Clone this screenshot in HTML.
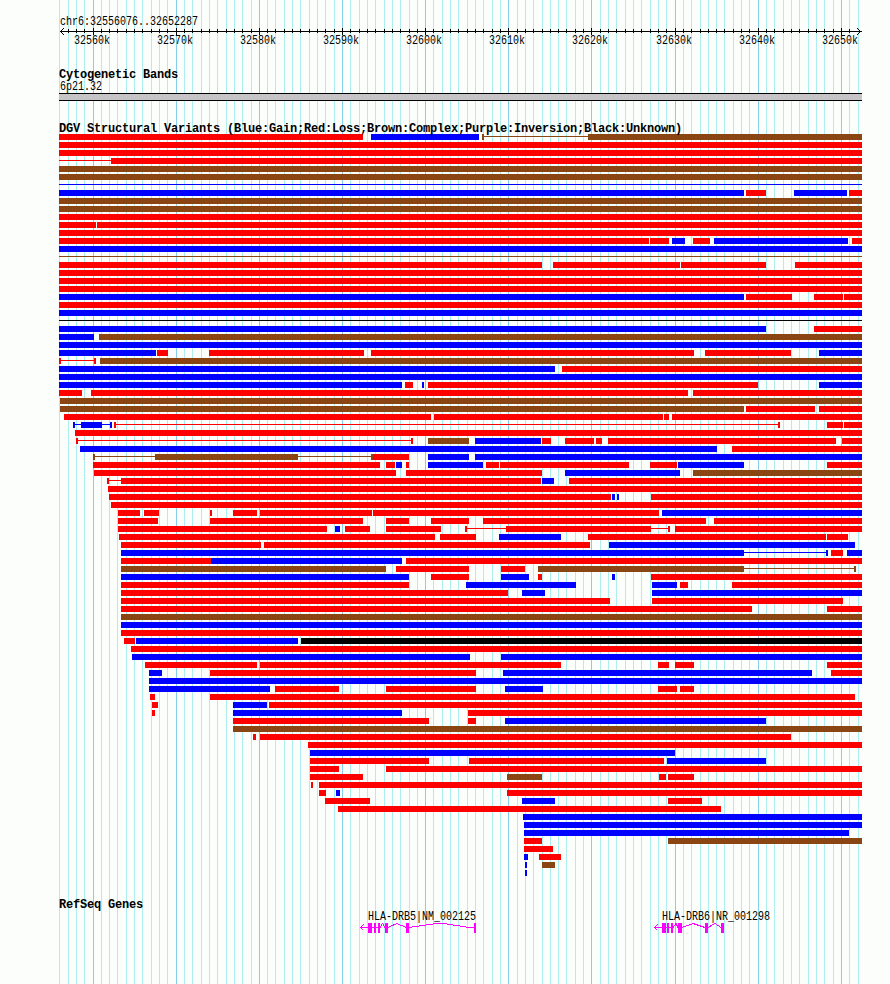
<!DOCTYPE html>
<html><head><meta charset="utf-8"><style>
html,body{margin:0;padding:0;background:#fcfefb;}
body{width:890px;height:984px;position:relative;overflow:hidden;}
svg{position:absolute;left:0;top:0;}
.n,.b{position:absolute;font-family:"Liberation Mono",monospace;font-size:12px;line-height:13px;white-space:pre;color:#000;}
.n{font-size:10px;transform:scaleY(1.2);transform-origin:0 0;}
.b{font-weight:bold;font-size:12px;letter-spacing:-0.2px;}
</style></head><body>
<svg width="890" height="984" viewBox="0 0 890 984" shape-rendering="crispEdges">
<rect x="59" y="0" width="1" height="984" fill="#afeeee"/>
<rect x="68" y="0" width="1" height="984" fill="#afeeee"/>
<rect x="76" y="0" width="1" height="984" fill="#afeeee"/>
<rect x="84" y="0" width="1" height="984" fill="#afeeee"/>
<rect x="93" y="0" width="1" height="984" fill="#87ceeb"/>
<rect x="101" y="0" width="1" height="984" fill="#afeeee"/>
<rect x="109" y="0" width="1" height="984" fill="#afeeee"/>
<rect x="117" y="0" width="1" height="984" fill="#afeeee"/>
<rect x="126" y="0" width="1" height="984" fill="#afeeee"/>
<rect x="134" y="0" width="1" height="984" fill="#afeeee"/>
<rect x="142" y="0" width="1" height="984" fill="#afeeee"/>
<rect x="151" y="0" width="1" height="984" fill="#afeeee"/>
<rect x="159" y="0" width="1" height="984" fill="#afeeee"/>
<rect x="167" y="0" width="1" height="984" fill="#afeeee"/>
<rect x="176" y="0" width="1" height="984" fill="#87ceeb"/>
<rect x="184" y="0" width="1" height="984" fill="#afeeee"/>
<rect x="192" y="0" width="1" height="984" fill="#afeeee"/>
<rect x="201" y="0" width="1" height="984" fill="#afeeee"/>
<rect x="209" y="0" width="1" height="984" fill="#afeeee"/>
<rect x="217" y="0" width="1" height="984" fill="#afeeee"/>
<rect x="226" y="0" width="1" height="984" fill="#afeeee"/>
<rect x="234" y="0" width="1" height="984" fill="#afeeee"/>
<rect x="242" y="0" width="1" height="984" fill="#afeeee"/>
<rect x="251" y="0" width="1" height="984" fill="#afeeee"/>
<rect x="259" y="0" width="1" height="984" fill="#87ceeb"/>
<rect x="267" y="0" width="1" height="984" fill="#afeeee"/>
<rect x="275" y="0" width="1" height="984" fill="#afeeee"/>
<rect x="284" y="0" width="1" height="984" fill="#afeeee"/>
<rect x="292" y="0" width="1" height="984" fill="#afeeee"/>
<rect x="300" y="0" width="1" height="984" fill="#afeeee"/>
<rect x="309" y="0" width="1" height="984" fill="#afeeee"/>
<rect x="317" y="0" width="1" height="984" fill="#afeeee"/>
<rect x="325" y="0" width="1" height="984" fill="#afeeee"/>
<rect x="334" y="0" width="1" height="984" fill="#afeeee"/>
<rect x="342" y="0" width="1" height="984" fill="#87ceeb"/>
<rect x="350" y="0" width="1" height="984" fill="#afeeee"/>
<rect x="359" y="0" width="1" height="984" fill="#afeeee"/>
<rect x="367" y="0" width="1" height="984" fill="#afeeee"/>
<rect x="375" y="0" width="1" height="984" fill="#afeeee"/>
<rect x="384" y="0" width="1" height="984" fill="#afeeee"/>
<rect x="392" y="0" width="1" height="984" fill="#afeeee"/>
<rect x="400" y="0" width="1" height="984" fill="#afeeee"/>
<rect x="409" y="0" width="1" height="984" fill="#afeeee"/>
<rect x="417" y="0" width="1" height="984" fill="#afeeee"/>
<rect x="425" y="0" width="1" height="984" fill="#87ceeb"/>
<rect x="433" y="0" width="1" height="984" fill="#afeeee"/>
<rect x="442" y="0" width="1" height="984" fill="#afeeee"/>
<rect x="450" y="0" width="1" height="984" fill="#afeeee"/>
<rect x="458" y="0" width="1" height="984" fill="#afeeee"/>
<rect x="467" y="0" width="1" height="984" fill="#afeeee"/>
<rect x="475" y="0" width="1" height="984" fill="#afeeee"/>
<rect x="483" y="0" width="1" height="984" fill="#afeeee"/>
<rect x="492" y="0" width="1" height="984" fill="#afeeee"/>
<rect x="500" y="0" width="1" height="984" fill="#afeeee"/>
<rect x="508" y="0" width="1" height="984" fill="#87ceeb"/>
<rect x="517" y="0" width="1" height="984" fill="#afeeee"/>
<rect x="525" y="0" width="1" height="984" fill="#afeeee"/>
<rect x="533" y="0" width="1" height="984" fill="#afeeee"/>
<rect x="542" y="0" width="1" height="984" fill="#afeeee"/>
<rect x="550" y="0" width="1" height="984" fill="#afeeee"/>
<rect x="558" y="0" width="1" height="984" fill="#afeeee"/>
<rect x="566" y="0" width="1" height="984" fill="#afeeee"/>
<rect x="575" y="0" width="1" height="984" fill="#afeeee"/>
<rect x="583" y="0" width="1" height="984" fill="#afeeee"/>
<rect x="591" y="0" width="1" height="984" fill="#87ceeb"/>
<rect x="600" y="0" width="1" height="984" fill="#afeeee"/>
<rect x="608" y="0" width="1" height="984" fill="#afeeee"/>
<rect x="616" y="0" width="1" height="984" fill="#afeeee"/>
<rect x="625" y="0" width="1" height="984" fill="#afeeee"/>
<rect x="633" y="0" width="1" height="984" fill="#afeeee"/>
<rect x="641" y="0" width="1" height="984" fill="#afeeee"/>
<rect x="650" y="0" width="1" height="984" fill="#afeeee"/>
<rect x="658" y="0" width="1" height="984" fill="#afeeee"/>
<rect x="666" y="0" width="1" height="984" fill="#afeeee"/>
<rect x="675" y="0" width="1" height="984" fill="#87ceeb"/>
<rect x="683" y="0" width="1" height="984" fill="#afeeee"/>
<rect x="691" y="0" width="1" height="984" fill="#afeeee"/>
<rect x="700" y="0" width="1" height="984" fill="#afeeee"/>
<rect x="708" y="0" width="1" height="984" fill="#afeeee"/>
<rect x="716" y="0" width="1" height="984" fill="#afeeee"/>
<rect x="724" y="0" width="1" height="984" fill="#afeeee"/>
<rect x="733" y="0" width="1" height="984" fill="#afeeee"/>
<rect x="741" y="0" width="1" height="984" fill="#afeeee"/>
<rect x="749" y="0" width="1" height="984" fill="#afeeee"/>
<rect x="758" y="0" width="1" height="984" fill="#87ceeb"/>
<rect x="766" y="0" width="1" height="984" fill="#afeeee"/>
<rect x="774" y="0" width="1" height="984" fill="#afeeee"/>
<rect x="783" y="0" width="1" height="984" fill="#afeeee"/>
<rect x="791" y="0" width="1" height="984" fill="#afeeee"/>
<rect x="799" y="0" width="1" height="984" fill="#afeeee"/>
<rect x="808" y="0" width="1" height="984" fill="#afeeee"/>
<rect x="816" y="0" width="1" height="984" fill="#afeeee"/>
<rect x="824" y="0" width="1" height="984" fill="#afeeee"/>
<rect x="833" y="0" width="1" height="984" fill="#afeeee"/>
<rect x="841" y="0" width="1" height="984" fill="#87ceeb"/>
<rect x="849" y="0" width="1" height="984" fill="#afeeee"/>
<rect x="858" y="0" width="1" height="984" fill="#afeeee"/>
<rect x="60" y="31" width="802" height="1" fill="#000"/>
<rect x="68" y="29" width="1" height="4" fill="#000"/>
<rect x="76" y="29" width="1" height="4" fill="#000"/>
<rect x="84" y="29" width="1" height="4" fill="#000"/>
<rect x="93" y="28" width="1" height="7" fill="#000"/>
<rect x="101" y="29" width="1" height="4" fill="#000"/>
<rect x="109" y="29" width="1" height="4" fill="#000"/>
<rect x="117" y="29" width="1" height="4" fill="#000"/>
<rect x="126" y="29" width="1" height="4" fill="#000"/>
<rect x="134" y="29" width="1" height="4" fill="#000"/>
<rect x="142" y="29" width="1" height="4" fill="#000"/>
<rect x="151" y="29" width="1" height="4" fill="#000"/>
<rect x="159" y="29" width="1" height="4" fill="#000"/>
<rect x="167" y="29" width="1" height="4" fill="#000"/>
<rect x="176" y="28" width="1" height="7" fill="#000"/>
<rect x="184" y="29" width="1" height="4" fill="#000"/>
<rect x="192" y="29" width="1" height="4" fill="#000"/>
<rect x="201" y="29" width="1" height="4" fill="#000"/>
<rect x="209" y="29" width="1" height="4" fill="#000"/>
<rect x="217" y="29" width="1" height="4" fill="#000"/>
<rect x="226" y="29" width="1" height="4" fill="#000"/>
<rect x="234" y="29" width="1" height="4" fill="#000"/>
<rect x="242" y="29" width="1" height="4" fill="#000"/>
<rect x="251" y="29" width="1" height="4" fill="#000"/>
<rect x="259" y="28" width="1" height="7" fill="#000"/>
<rect x="267" y="29" width="1" height="4" fill="#000"/>
<rect x="275" y="29" width="1" height="4" fill="#000"/>
<rect x="284" y="29" width="1" height="4" fill="#000"/>
<rect x="292" y="29" width="1" height="4" fill="#000"/>
<rect x="300" y="29" width="1" height="4" fill="#000"/>
<rect x="309" y="29" width="1" height="4" fill="#000"/>
<rect x="317" y="29" width="1" height="4" fill="#000"/>
<rect x="325" y="29" width="1" height="4" fill="#000"/>
<rect x="334" y="29" width="1" height="4" fill="#000"/>
<rect x="342" y="28" width="1" height="7" fill="#000"/>
<rect x="350" y="29" width="1" height="4" fill="#000"/>
<rect x="359" y="29" width="1" height="4" fill="#000"/>
<rect x="367" y="29" width="1" height="4" fill="#000"/>
<rect x="375" y="29" width="1" height="4" fill="#000"/>
<rect x="384" y="29" width="1" height="4" fill="#000"/>
<rect x="392" y="29" width="1" height="4" fill="#000"/>
<rect x="400" y="29" width="1" height="4" fill="#000"/>
<rect x="409" y="29" width="1" height="4" fill="#000"/>
<rect x="417" y="29" width="1" height="4" fill="#000"/>
<rect x="425" y="28" width="1" height="7" fill="#000"/>
<rect x="433" y="29" width="1" height="4" fill="#000"/>
<rect x="442" y="29" width="1" height="4" fill="#000"/>
<rect x="450" y="29" width="1" height="4" fill="#000"/>
<rect x="458" y="29" width="1" height="4" fill="#000"/>
<rect x="467" y="29" width="1" height="4" fill="#000"/>
<rect x="475" y="29" width="1" height="4" fill="#000"/>
<rect x="483" y="29" width="1" height="4" fill="#000"/>
<rect x="492" y="29" width="1" height="4" fill="#000"/>
<rect x="500" y="29" width="1" height="4" fill="#000"/>
<rect x="508" y="28" width="1" height="7" fill="#000"/>
<rect x="517" y="29" width="1" height="4" fill="#000"/>
<rect x="525" y="29" width="1" height="4" fill="#000"/>
<rect x="533" y="29" width="1" height="4" fill="#000"/>
<rect x="542" y="29" width="1" height="4" fill="#000"/>
<rect x="550" y="29" width="1" height="4" fill="#000"/>
<rect x="558" y="29" width="1" height="4" fill="#000"/>
<rect x="566" y="29" width="1" height="4" fill="#000"/>
<rect x="575" y="29" width="1" height="4" fill="#000"/>
<rect x="583" y="29" width="1" height="4" fill="#000"/>
<rect x="591" y="28" width="1" height="7" fill="#000"/>
<rect x="600" y="29" width="1" height="4" fill="#000"/>
<rect x="608" y="29" width="1" height="4" fill="#000"/>
<rect x="616" y="29" width="1" height="4" fill="#000"/>
<rect x="625" y="29" width="1" height="4" fill="#000"/>
<rect x="633" y="29" width="1" height="4" fill="#000"/>
<rect x="641" y="29" width="1" height="4" fill="#000"/>
<rect x="650" y="29" width="1" height="4" fill="#000"/>
<rect x="658" y="29" width="1" height="4" fill="#000"/>
<rect x="666" y="29" width="1" height="4" fill="#000"/>
<rect x="675" y="28" width="1" height="7" fill="#000"/>
<rect x="683" y="29" width="1" height="4" fill="#000"/>
<rect x="691" y="29" width="1" height="4" fill="#000"/>
<rect x="700" y="29" width="1" height="4" fill="#000"/>
<rect x="708" y="29" width="1" height="4" fill="#000"/>
<rect x="716" y="29" width="1" height="4" fill="#000"/>
<rect x="724" y="29" width="1" height="4" fill="#000"/>
<rect x="733" y="29" width="1" height="4" fill="#000"/>
<rect x="741" y="29" width="1" height="4" fill="#000"/>
<rect x="749" y="29" width="1" height="4" fill="#000"/>
<rect x="758" y="28" width="1" height="7" fill="#000"/>
<rect x="766" y="29" width="1" height="4" fill="#000"/>
<rect x="774" y="29" width="1" height="4" fill="#000"/>
<rect x="783" y="29" width="1" height="4" fill="#000"/>
<rect x="791" y="29" width="1" height="4" fill="#000"/>
<rect x="799" y="29" width="1" height="4" fill="#000"/>
<rect x="808" y="29" width="1" height="4" fill="#000"/>
<rect x="816" y="29" width="1" height="4" fill="#000"/>
<rect x="824" y="29" width="1" height="4" fill="#000"/>
<rect x="833" y="29" width="1" height="4" fill="#000"/>
<rect x="841" y="28" width="1" height="7" fill="#000"/>
<rect x="849" y="29" width="1" height="4" fill="#000"/>
<path d="M64 28 L60.6 31.5 L64 35" stroke="#000" fill="none" stroke-width="1"/>
<path d="M857 28 L860.4 31.5 L857 35" stroke="#000" fill="none" stroke-width="1"/>
<rect x="59" y="93" width="803" height="8" fill="#000"/>
<rect x="59" y="94" width="803" height="6" fill="#c6c4c6"/>
<rect x="59" y="134" width="304" height="6" fill="#ff0000"/>
<rect x="371" y="134" width="108" height="6" fill="#0000ff"/>
<rect x="482" y="134" width="2" height="6" fill="#8b4513"/>
<rect x="482" y="136" width="106" height="1" fill="#8b4513"/>
<rect x="588" y="134" width="274" height="6" fill="#8b4513"/>
<rect x="59" y="142" width="803" height="6" fill="#ff0000"/>
<rect x="59" y="150" width="803" height="6" fill="#ff0000"/>
<rect x="59" y="160" width="52" height="1" fill="#ff0000"/>
<rect x="111" y="158" width="751" height="6" fill="#ff0000"/>
<rect x="59" y="166" width="803" height="6" fill="#8b4513"/>
<rect x="59" y="174" width="803" height="6" fill="#8b4513"/>
<rect x="59" y="184" width="803" height="1" fill="#0000ff"/>
<rect x="59" y="190" width="685" height="6" fill="#0000ff"/>
<rect x="746" y="190" width="20" height="6" fill="#ff0000"/>
<rect x="794" y="190" width="53" height="6" fill="#0000ff"/>
<rect x="849" y="190" width="13" height="6" fill="#ff0000"/>
<rect x="59" y="198" width="803" height="6" fill="#8b4513"/>
<rect x="59" y="206" width="803" height="6" fill="#8b4513"/>
<rect x="59" y="214" width="803" height="6" fill="#ff0000"/>
<rect x="59" y="222" width="37" height="6" fill="#ff0000"/>
<rect x="97" y="222" width="765" height="6" fill="#ff0000"/>
<rect x="59" y="230" width="803" height="6" fill="#ff0000"/>
<rect x="59" y="238" width="590" height="6" fill="#ff0000"/>
<rect x="650" y="238" width="19" height="6" fill="#ff0000"/>
<rect x="672" y="238" width="13" height="6" fill="#0000ff"/>
<rect x="693" y="238" width="17" height="6" fill="#ff0000"/>
<rect x="714" y="238" width="134" height="6" fill="#0000ff"/>
<rect x="852" y="238" width="10" height="6" fill="#ff0000"/>
<rect x="59" y="246" width="803" height="6" fill="#0000ff"/>
<rect x="59" y="256" width="803" height="1" fill="#8b4513"/>
<rect x="59" y="262" width="483" height="6" fill="#ff0000"/>
<rect x="553" y="262" width="127" height="6" fill="#ff0000"/>
<rect x="681" y="262" width="85" height="6" fill="#ff0000"/>
<rect x="795" y="262" width="67" height="6" fill="#ff0000"/>
<rect x="59" y="270" width="803" height="6" fill="#ff0000"/>
<rect x="59" y="278" width="803" height="6" fill="#ff0000"/>
<rect x="59" y="286" width="803" height="6" fill="#ff0000"/>
<rect x="59" y="294" width="685" height="6" fill="#0000ff"/>
<rect x="746" y="294" width="46" height="6" fill="#ff0000"/>
<rect x="814" y="294" width="29" height="6" fill="#ff0000"/>
<rect x="844" y="294" width="18" height="6" fill="#ff0000"/>
<rect x="59" y="302" width="803" height="6" fill="#ff0000"/>
<rect x="59" y="310" width="803" height="6" fill="#0000ff"/>
<rect x="59" y="320" width="803" height="1" fill="#000000"/>
<rect x="59" y="326" width="707" height="6" fill="#0000ff"/>
<rect x="814" y="326" width="48" height="6" fill="#ff0000"/>
<rect x="59" y="334" width="35" height="6" fill="#0000ff"/>
<rect x="99" y="334" width="763" height="6" fill="#8b4513"/>
<rect x="59" y="342" width="803" height="6" fill="#0000ff"/>
<rect x="59" y="350" width="97" height="6" fill="#0000ff"/>
<rect x="157" y="350" width="11" height="6" fill="#ff0000"/>
<rect x="209" y="350" width="155" height="6" fill="#ff0000"/>
<rect x="371" y="350" width="323" height="6" fill="#ff0000"/>
<rect x="705" y="350" width="86" height="6" fill="#ff0000"/>
<rect x="819" y="350" width="43" height="6" fill="#0000ff"/>
<rect x="59" y="358" width="2" height="6" fill="#ff0000"/>
<rect x="59" y="360" width="37" height="1" fill="#ff0000"/>
<rect x="94" y="358" width="2" height="6" fill="#ff0000"/>
<rect x="100" y="358" width="762" height="6" fill="#8b4513"/>
<rect x="59" y="366" width="496" height="6" fill="#0000ff"/>
<rect x="562" y="366" width="300" height="6" fill="#ff0000"/>
<rect x="59" y="374" width="803" height="6" fill="#0000ff"/>
<rect x="59" y="382" width="343" height="6" fill="#0000ff"/>
<rect x="405" y="382" width="8" height="6" fill="#ff0000"/>
<rect x="422" y="382" width="2" height="6" fill="#0000ff"/>
<rect x="428" y="382" width="330" height="6" fill="#ff0000"/>
<rect x="819" y="382" width="43" height="6" fill="#0000ff"/>
<rect x="59" y="390" width="23" height="6" fill="#ff0000"/>
<rect x="91" y="390" width="597" height="6" fill="#ff0000"/>
<rect x="693" y="390" width="169" height="6" fill="#ff0000"/>
<rect x="60" y="398" width="802" height="6" fill="#8b4513"/>
<rect x="60" y="406" width="684" height="6" fill="#8b4513"/>
<rect x="746" y="406" width="69" height="6" fill="#ff0000"/>
<rect x="819" y="406" width="43" height="6" fill="#ff0000"/>
<rect x="64" y="414" width="367" height="6" fill="#ff0000"/>
<rect x="434" y="414" width="229" height="6" fill="#ff0000"/>
<rect x="664" y="414" width="5" height="6" fill="#ff0000"/>
<rect x="672" y="414" width="190" height="6" fill="#ff0000"/>
<rect x="73" y="422" width="2" height="6" fill="#0000ff"/>
<rect x="73" y="424" width="39" height="1" fill="#0000ff"/>
<rect x="81" y="422" width="21" height="6" fill="#0000ff"/>
<rect x="110" y="422" width="2" height="6" fill="#0000ff"/>
<rect x="114" y="422" width="2" height="6" fill="#ff0000"/>
<rect x="114" y="424" width="666" height="1" fill="#ff0000"/>
<rect x="778" y="422" width="2" height="6" fill="#ff0000"/>
<rect x="827" y="422" width="16" height="6" fill="#ff0000"/>
<rect x="844" y="422" width="18" height="6" fill="#ff0000"/>
<rect x="75" y="430" width="787" height="6" fill="#ff0000"/>
<rect x="76" y="438" width="2" height="6" fill="#ff0000"/>
<rect x="76" y="440" width="337" height="1" fill="#ff0000"/>
<rect x="411" y="438" width="2" height="6" fill="#ff0000"/>
<rect x="428" y="438" width="41" height="6" fill="#8b4513"/>
<rect x="475" y="438" width="66" height="6" fill="#0000ff"/>
<rect x="542" y="438" width="9" height="6" fill="#ff0000"/>
<rect x="565" y="438" width="29" height="6" fill="#ff0000"/>
<rect x="596" y="438" width="6" height="6" fill="#ff0000"/>
<rect x="608" y="438" width="228" height="6" fill="#ff0000"/>
<rect x="842" y="438" width="20" height="6" fill="#ff0000"/>
<rect x="80" y="446" width="637" height="6" fill="#0000ff"/>
<rect x="732" y="446" width="130" height="6" fill="#ff0000"/>
<rect x="93" y="454" width="2" height="6" fill="#8b4513"/>
<rect x="93" y="456" width="280" height="1" fill="#8b4513"/>
<rect x="155" y="454" width="143" height="6" fill="#8b4513"/>
<rect x="371" y="454" width="2" height="6" fill="#8b4513"/>
<rect x="373" y="454" width="36" height="6" fill="#ff0000"/>
<rect x="428" y="454" width="41" height="6" fill="#0000ff"/>
<rect x="475" y="454" width="387" height="6" fill="#0000ff"/>
<rect x="93" y="462" width="287" height="6" fill="#ff0000"/>
<rect x="386" y="462" width="9" height="6" fill="#ff0000"/>
<rect x="396" y="462" width="6" height="6" fill="#0000ff"/>
<rect x="406" y="462" width="3" height="6" fill="#ff0000"/>
<rect x="428" y="462" width="55" height="6" fill="#0000ff"/>
<rect x="486" y="462" width="13" height="6" fill="#ff0000"/>
<rect x="500" y="462" width="129" height="6" fill="#ff0000"/>
<rect x="650" y="462" width="27" height="6" fill="#ff0000"/>
<rect x="678" y="462" width="66" height="6" fill="#0000ff"/>
<rect x="827" y="462" width="35" height="6" fill="#ff0000"/>
<rect x="94" y="470" width="302" height="6" fill="#ff0000"/>
<rect x="406" y="470" width="136" height="6" fill="#ff0000"/>
<rect x="565" y="470" width="115" height="6" fill="#0000ff"/>
<rect x="693" y="470" width="169" height="6" fill="#8b4513"/>
<rect x="107" y="478" width="2" height="6" fill="#ff0000"/>
<rect x="107" y="480" width="14" height="1" fill="#ff0000"/>
<rect x="121" y="478" width="420" height="6" fill="#ff0000"/>
<rect x="542" y="478" width="12" height="6" fill="#0000ff"/>
<rect x="569" y="478" width="293" height="6" fill="#ff0000"/>
<rect x="108" y="486" width="754" height="6" fill="#ff0000"/>
<rect x="109" y="494" width="502" height="6" fill="#ff0000"/>
<rect x="612" y="494" width="3" height="6" fill="#0000ff"/>
<rect x="617" y="494" width="2" height="6" fill="#0000ff"/>
<rect x="651" y="494" width="211" height="6" fill="#ff0000"/>
<rect x="111" y="502" width="751" height="6" fill="#ff0000"/>
<rect x="118" y="510" width="22" height="6" fill="#ff0000"/>
<rect x="144" y="510" width="15" height="6" fill="#ff0000"/>
<rect x="210" y="510" width="2" height="6" fill="#ff0000"/>
<rect x="233" y="510" width="24" height="6" fill="#ff0000"/>
<rect x="260" y="510" width="112" height="6" fill="#ff0000"/>
<rect x="373" y="510" width="286" height="6" fill="#ff0000"/>
<rect x="662" y="510" width="200" height="6" fill="#0000ff"/>
<rect x="118" y="518" width="40" height="6" fill="#ff0000"/>
<rect x="210" y="518" width="153" height="6" fill="#ff0000"/>
<rect x="386" y="518" width="23" height="6" fill="#ff0000"/>
<rect x="431" y="518" width="38" height="6" fill="#ff0000"/>
<rect x="483" y="518" width="223" height="6" fill="#ff0000"/>
<rect x="714" y="518" width="148" height="6" fill="#ff0000"/>
<rect x="118" y="526" width="209" height="6" fill="#ff0000"/>
<rect x="335" y="526" width="5" height="6" fill="#0000ff"/>
<rect x="345" y="526" width="25" height="6" fill="#ff0000"/>
<rect x="386" y="526" width="55" height="6" fill="#ff0000"/>
<rect x="465" y="526" width="2" height="6" fill="#ff0000"/>
<rect x="465" y="528" width="41" height="1" fill="#ff0000"/>
<rect x="506" y="526" width="145" height="6" fill="#ff0000"/>
<rect x="651" y="528" width="19" height="1" fill="#ff0000"/>
<rect x="668" y="526" width="2" height="6" fill="#ff0000"/>
<rect x="675" y="526" width="187" height="6" fill="#ff0000"/>
<rect x="119" y="534" width="316" height="6" fill="#ff0000"/>
<rect x="440" y="534" width="36" height="6" fill="#ff0000"/>
<rect x="499" y="534" width="62" height="6" fill="#0000ff"/>
<rect x="588" y="534" width="238" height="6" fill="#ff0000"/>
<rect x="827" y="534" width="21" height="6" fill="#ff0000"/>
<rect x="121" y="542" width="140" height="6" fill="#ff0000"/>
<rect x="264" y="542" width="326" height="6" fill="#ff0000"/>
<rect x="609" y="542" width="246" height="6" fill="#0000ff"/>
<rect x="121" y="550" width="623" height="6" fill="#0000ff"/>
<rect x="744" y="552" width="84" height="1" fill="#0000ff"/>
<rect x="826" y="550" width="2" height="6" fill="#0000ff"/>
<rect x="831" y="550" width="12" height="6" fill="#ff0000"/>
<rect x="847" y="550" width="15" height="6" fill="#0000ff"/>
<rect x="121" y="558" width="90" height="6" fill="#ff0000"/>
<rect x="211" y="558" width="191" height="6" fill="#0000ff"/>
<rect x="406" y="558" width="456" height="6" fill="#ff0000"/>
<rect x="121" y="566" width="265" height="6" fill="#8b4513"/>
<rect x="396" y="566" width="73" height="6" fill="#ff0000"/>
<rect x="501" y="566" width="24" height="6" fill="#ff0000"/>
<rect x="538" y="566" width="206" height="6" fill="#8b4513"/>
<rect x="744" y="568" width="112" height="1" fill="#8b4513"/>
<rect x="854" y="566" width="2" height="6" fill="#8b4513"/>
<rect x="121" y="574" width="288" height="6" fill="#0000ff"/>
<rect x="431" y="574" width="38" height="6" fill="#ff0000"/>
<rect x="501" y="574" width="28" height="6" fill="#0000ff"/>
<rect x="538" y="574" width="4" height="6" fill="#ff0000"/>
<rect x="612" y="574" width="3" height="6" fill="#0000ff"/>
<rect x="651" y="574" width="211" height="6" fill="#ff0000"/>
<rect x="121" y="582" width="288" height="6" fill="#ff0000"/>
<rect x="466" y="582" width="110" height="6" fill="#0000ff"/>
<rect x="652" y="582" width="25" height="6" fill="#0000ff"/>
<rect x="680" y="582" width="8" height="6" fill="#ff0000"/>
<rect x="732" y="582" width="130" height="6" fill="#ff0000"/>
<rect x="121" y="590" width="387" height="6" fill="#ff0000"/>
<rect x="522" y="590" width="23" height="6" fill="#0000ff"/>
<rect x="652" y="590" width="210" height="6" fill="#0000ff"/>
<rect x="121" y="598" width="489" height="6" fill="#ff0000"/>
<rect x="652" y="598" width="191" height="6" fill="#ff0000"/>
<rect x="121" y="606" width="631" height="6" fill="#ff0000"/>
<rect x="827" y="606" width="35" height="6" fill="#ff0000"/>
<rect x="121" y="614" width="741" height="6" fill="#8b4513"/>
<rect x="121" y="622" width="741" height="6" fill="#0000ff"/>
<rect x="121" y="630" width="741" height="6" fill="#ff0000"/>
<rect x="124" y="638" width="11" height="6" fill="#ff0000"/>
<rect x="136" y="638" width="162" height="6" fill="#0000ff"/>
<rect x="301" y="638" width="561" height="6" fill="#000000"/>
<rect x="131" y="646" width="731" height="6" fill="#ff0000"/>
<rect x="132" y="654" width="338" height="6" fill="#0000ff"/>
<rect x="501" y="654" width="361" height="6" fill="#0000ff"/>
<rect x="145" y="662" width="112" height="6" fill="#ff0000"/>
<rect x="260" y="662" width="301" height="6" fill="#ff0000"/>
<rect x="658" y="662" width="11" height="6" fill="#ff0000"/>
<rect x="675" y="662" width="19" height="6" fill="#ff0000"/>
<rect x="827" y="662" width="35" height="6" fill="#ff0000"/>
<rect x="149" y="670" width="13" height="6" fill="#0000ff"/>
<rect x="210" y="670" width="266" height="6" fill="#ff0000"/>
<rect x="503" y="670" width="309" height="6" fill="#0000ff"/>
<rect x="831" y="670" width="31" height="6" fill="#ff0000"/>
<rect x="149" y="678" width="713" height="6" fill="#0000ff"/>
<rect x="149" y="686" width="121" height="6" fill="#0000ff"/>
<rect x="275" y="686" width="64" height="6" fill="#ff0000"/>
<rect x="386" y="686" width="90" height="6" fill="#ff0000"/>
<rect x="505" y="686" width="38" height="6" fill="#0000ff"/>
<rect x="658" y="686" width="19" height="6" fill="#ff0000"/>
<rect x="680" y="686" width="14" height="6" fill="#ff0000"/>
<rect x="150" y="694" width="5" height="6" fill="#ff0000"/>
<rect x="210" y="694" width="645" height="6" fill="#ff0000"/>
<rect x="152" y="702" width="6" height="6" fill="#ff0000"/>
<rect x="233" y="702" width="34" height="6" fill="#0000ff"/>
<rect x="269" y="702" width="593" height="6" fill="#ff0000"/>
<rect x="152" y="710" width="3" height="6" fill="#ff0000"/>
<rect x="233" y="710" width="169" height="6" fill="#0000ff"/>
<rect x="468" y="710" width="394" height="6" fill="#ff0000"/>
<rect x="233" y="718" width="196" height="6" fill="#ff0000"/>
<rect x="468" y="718" width="8" height="6" fill="#ff0000"/>
<rect x="505" y="718" width="261" height="6" fill="#0000ff"/>
<rect x="233" y="726" width="629" height="6" fill="#8b4513"/>
<rect x="253" y="734" width="3" height="6" fill="#ff0000"/>
<rect x="260" y="734" width="531" height="6" fill="#ff0000"/>
<rect x="308" y="742" width="554" height="6" fill="#ff0000"/>
<rect x="310" y="750" width="365" height="6" fill="#0000ff"/>
<rect x="310" y="758" width="119" height="6" fill="#ff0000"/>
<rect x="469" y="758" width="195" height="6" fill="#ff0000"/>
<rect x="667" y="758" width="99" height="6" fill="#0000ff"/>
<rect x="310" y="766" width="29" height="6" fill="#ff0000"/>
<rect x="386" y="766" width="476" height="6" fill="#ff0000"/>
<rect x="310" y="774" width="53" height="6" fill="#ff0000"/>
<rect x="507" y="774" width="35" height="6" fill="#8b4513"/>
<rect x="659" y="774" width="7" height="6" fill="#ff0000"/>
<rect x="668" y="774" width="26" height="6" fill="#ff0000"/>
<rect x="311" y="782" width="2" height="6" fill="#ff0000"/>
<rect x="319" y="782" width="543" height="6" fill="#ff0000"/>
<rect x="319" y="790" width="7" height="6" fill="#ff0000"/>
<rect x="336" y="790" width="4" height="6" fill="#0000ff"/>
<rect x="507" y="790" width="355" height="6" fill="#ff0000"/>
<rect x="325" y="798" width="45" height="6" fill="#ff0000"/>
<rect x="522" y="798" width="33" height="6" fill="#0000ff"/>
<rect x="668" y="798" width="34" height="6" fill="#ff0000"/>
<rect x="338" y="806" width="383" height="6" fill="#ff0000"/>
<rect x="523" y="814" width="339" height="6" fill="#0000ff"/>
<rect x="524" y="822" width="338" height="6" fill="#0000ff"/>
<rect x="524" y="830" width="325" height="6" fill="#0000ff"/>
<rect x="524" y="838" width="18" height="6" fill="#ff0000"/>
<rect x="668" y="838" width="194" height="6" fill="#8b4513"/>
<rect x="524" y="846" width="29" height="6" fill="#ff0000"/>
<rect x="524" y="854" width="4" height="6" fill="#0000ff"/>
<rect x="539" y="854" width="22" height="6" fill="#ff0000"/>
<rect x="525" y="862" width="2" height="6" fill="#0000ff"/>
<rect x="542" y="862" width="13" height="6" fill="#8b4513"/>
<rect x="525" y="870" width="2" height="6" fill="#0000ff"/>
<path d="M363.5 924.5 L360.5 927.5 L363.5 930.5" stroke="#ff00ff" fill="none"/>
<rect x="360" y="927" width="20" height="1" fill="#ff00ff"/>
<rect x="368" y="923" width="4" height="10" fill="#ff00ff"/>
<rect x="374" y="923" width="2" height="10" fill="#ff00ff"/>
<rect x="378" y="923" width="2" height="10" fill="#ff00ff"/>
<rect x="385" y="923" width="3" height="10" fill="#ff00ff"/>
<rect x="406" y="923" width="3" height="10" fill="#ff00ff"/>
<polyline points="380,927.5 382.5,923.5 385,927.5" stroke="#ff00ff" fill="none"/>
<polyline points="388,927.5 397,923.5 406,927.5" stroke="#ff00ff" fill="none"/>
<polyline points="409,927.5 437,923.5 444,923.5 469,927.5 475,927.5" stroke="#ff00ff" fill="none"/>
<rect x="474" y="923" width="2" height="10" fill="#ff00ff"/>
<path d="M657.5 924.5 L654.5 927.5 L657.5 930.5" stroke="#ff00ff" fill="none"/>
<rect x="654" y="927" width="19" height="1" fill="#ff00ff"/>
<rect x="662" y="923" width="4" height="10" fill="#ff00ff"/>
<rect x="667" y="923" width="2" height="10" fill="#ff00ff"/>
<rect x="671" y="923" width="2" height="10" fill="#ff00ff"/>
<rect x="678" y="923" width="4" height="10" fill="#ff00ff"/>
<rect x="705" y="923" width="3" height="10" fill="#ff00ff"/>
<rect x="721" y="923" width="3" height="10" fill="#ff00ff"/>
<polyline points="673,927.5 676,923.5 678,927.5" stroke="#ff00ff" fill="none"/>
<polyline points="682,927.5 693,923.5 705,927.5" stroke="#ff00ff" fill="none"/>
<polyline points="708,927.5 715,923.5 721,927.5" stroke="#ff00ff" fill="none"/>
</svg>
<div class="n" style="left:60px;top:14px">chr6:32556076..32652287</div>
<div class="n" style="left:74px;top:33px">32560k</div>
<div class="n" style="left:157px;top:33px">32570k</div>
<div class="n" style="left:240px;top:33px">32580k</div>
<div class="n" style="left:323px;top:33px">32590k</div>
<div class="n" style="left:406px;top:33px">32600k</div>
<div class="n" style="left:489px;top:33px">32610k</div>
<div class="n" style="left:572px;top:33px">32620k</div>
<div class="n" style="left:656px;top:33px">32630k</div>
<div class="n" style="left:739px;top:33px">32640k</div>
<div class="n" style="left:822px;top:33px">32650k</div>
<div class="b" style="left:59px;top:69px">Cytogenetic Bands</div>
<div class="n" style="left:60px;top:79px">6p21.32</div>
<div class="b" style="left:59px;top:123px">DGV Structural Variants (Blue:Gain;Red:Loss;Brown:Complex;Purple:Inversion;Black:Unknown)</div>
<div class="b" style="left:59px;top:899px">RefSeq Genes</div>
<div class="n" style="left:368px;top:909px">HLA-DRB5|NM_002125</div>
<div class="n" style="left:662px;top:909px">HLA-DRB6|NR_001298</div>
</body></html>
